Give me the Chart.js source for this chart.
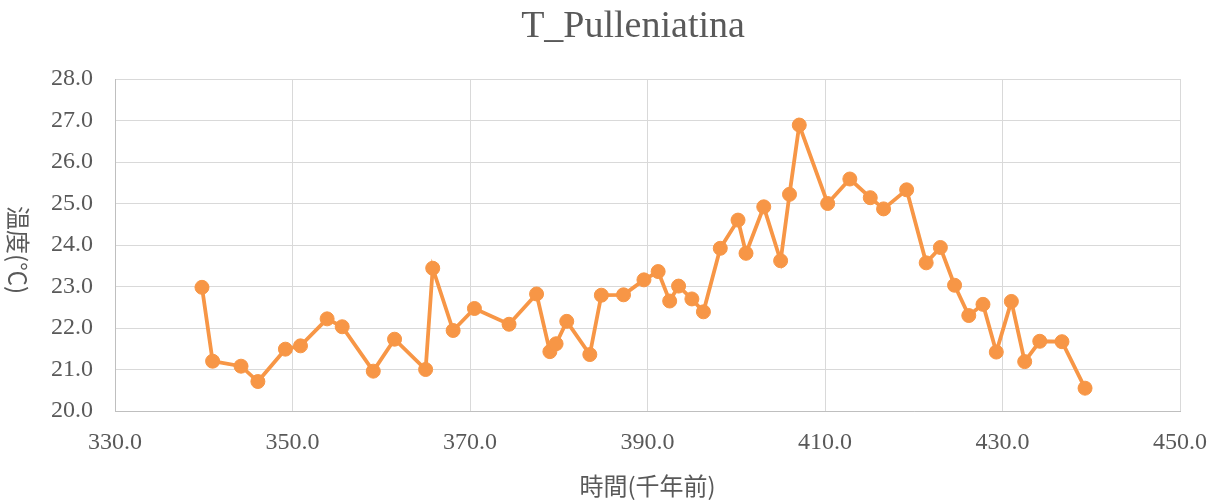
<!DOCTYPE html>
<html>
<head>
<meta charset="utf-8">
<script src="https://cdn.jsdelivr.net/npm/chart.js@4/dist/chart.umd.min.js"></script>
<style>
  html, body { margin: 0; padding: 0; background: #fff; }
  #wrap { width: 1216px; height: 500px; }
</style>
</head>
<body>
<div id="wrap"><canvas id="c" width="1216" height="500"></canvas></div>
<script>
const chartTitle = "T_Pulleniatina";
const xTitle = "時間(千年前)";
const yTitle = "温度(℃)";

const timeKa = [
  339.8, 341.0, 344.2, 346.1, 349.2, 350.9, 353.9, 355.6, 359.1, 361.5,
  365.0, 365.8, 368.1, 370.5, 374.4, 377.5, 379.0, 379.7, 380.9, 383.5,
  384.8, 387.3, 389.6, 391.2, 392.5, 393.5, 395.0, 396.3, 398.2, 400.2,
  401.1, 403.1, 405.0, 406.0, 407.1, 410.3, 412.8, 415.1, 416.6, 419.2,
  421.4, 423.0, 424.6, 426.2, 427.8, 429.3, 431.0, 432.5, 434.2, 436.7,
  439.3
];
const tempC = [
  22.98, 21.20, 21.08, 20.71, 21.49, 21.57, 22.22, 22.03, 20.96, 21.73,
  21.00, 23.44, 21.94, 22.47, 22.09, 22.82, 21.43, 21.62, 22.16, 21.36,
  22.79, 22.80, 23.16, 23.36, 22.65, 23.01, 22.70, 22.39, 23.92, 24.60,
  23.80, 24.92, 23.62, 25.22, 26.89, 25.00, 25.59, 25.14, 24.87, 25.33,
  23.57, 23.94, 23.03, 22.30, 22.57, 21.42, 22.64, 21.19, 21.68, 21.67,
  20.55
];
const xTicks = [330, 350, 370, 390, 410, 430, 450];
const yTicks = [20, 21, 22, 23, 24, 25, 26, 27, 28];

const points = timeKa.map((t, i) => ({ x: t, y: tempC[i] }));

const textPlugin = {
  id: 'textPlugin',
  afterDraw(chart) {
    const ctx = chart.ctx;
    ctx.save();
    ctx.fillStyle = '#595959';
    ctx.textAlign = 'center';
    ctx.textBaseline = 'alphabetic';
    ctx.font = '38px "Liberation Serif"';
    ctx.fillText(chartTitle, 633, 37);
    ctx.translate(18, 250);
    ctx.rotate(Math.PI / 2);
    ctx.font = '24px "Noto Sans CJK JP"';
    ctx.textBaseline = 'middle';
    ctx.fillText(yTitle, 0, 0);
    ctx.restore();
  }
};

new Chart(document.getElementById('c'), {
  type: 'line',
  data: {
    datasets: [{
      label: chartTitle,
      data: points,
      borderColor: '#F79646',
      backgroundColor: '#F79646',
      borderWidth: 3.8,
      pointRadius: 7,
      pointHoverRadius: 7,
      pointBorderWidth: 1,
      pointBorderColor: '#F79646',
      pointBackgroundColor: '#F79646',
      tension: 0,
      fill: false
    }]
  },
  options: {
    responsive: false,
    animation: false,
    layout: { padding: { left: 0, right: 36, top: 79, bottom: 0 } },
    plugins: {
      legend: { display: false },
      tooltip: { enabled: false },
      title: { display: false }
    },
    scales: {
      x: {
        type: 'linear',
        min: xTicks[0],
        max: xTicks[xTicks.length - 1],
        afterBuildTicks(scale) { scale.ticks = xTicks.map(v => ({ value: v })); },
        afterFit(scale) {
          scale.height = 89;
          scale.paddingLeft = 0;
          scale.paddingRight = 0;
        },
        ticks: {
          color: '#595959',
          font: { family: '"Liberation Serif"', size: 24 },
          padding: 17,
          maxRotation: 0,
          callback: v => Number(v).toFixed(1)
        },
        grid: { color: '#D9D9D9', lineWidth: 1, drawTicks: false },
        border: { color: '#BFBFBF', width: 1 },
        title: {
          display: true,
          text: xTitle,
          color: '#595959',
          font: { family: '"Noto Sans CJK JP"', size: 24 },
          padding: { top: 0, bottom: 0 }
        }
      },
      y: {
        type: 'linear',
        min: yTicks[0],
        max: yTicks[yTicks.length - 1],
        afterBuildTicks(scale) { scale.ticks = yTicks.map(v => ({ value: v })); },
        afterFit(scale) { scale.width = 115; },
        ticks: {
          color: '#595959',
          font: { family: '"Liberation Serif"', size: 24 },
          padding: 22,
          callback: v => Number(v).toFixed(1)
        },
        grid: { color: '#D9D9D9', lineWidth: 1, drawTicks: false },
        border: { color: '#BFBFBF', width: 1 }
      }
    }
  },
  plugins: [textPlugin]
});
</script>
</body>
</html>
